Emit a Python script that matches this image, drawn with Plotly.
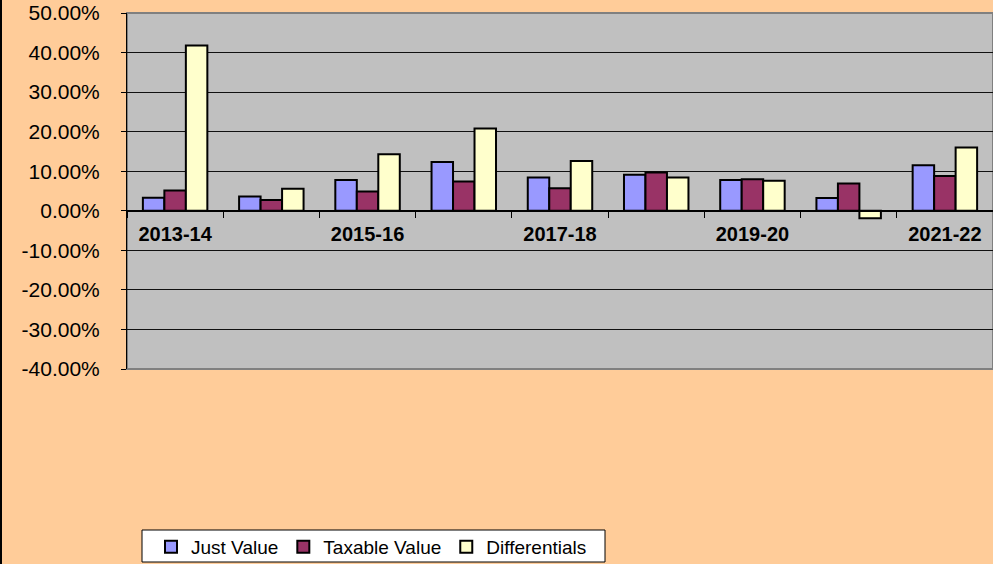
import plotly.graph_objects as go

categories = ["2013-14", "2014-15", "2015-16", "2016-17", "2017-18",
              "2018-19", "2019-20", "2020-21", "2021-22"]
tick_labels = ["2013-14", "", "2015-16", "", "2017-18", "", "2019-20", "", "2021-22"]
just_value = [3.3, 3.6, 7.8, 12.3, 8.4, 9.1, 7.8, 3.2, 11.5]
taxable_value = [5.1, 2.7, 4.9, 7.4, 5.7, 9.7, 8.0, 6.9, 8.8]
differentials = [41.8, 5.6, 14.3, 20.8, 12.6, 8.4, 7.6, -1.9, 16.0]
y_ticks = [-40, -30, -20, -10, 0, 10, 20, 30, 40, 50]
y_tick_labels = ["-40.00%", "-30.00%", "-20.00%", "-10.00%", "0.00%",
                 "10.00%", "20.00%", "30.00%", "40.00%", "50.00%"]

YMIN, YMAX = -40, 50
FONT = "Liberation Sans, Arial, sans-serif"
L, T, B, W, H = 127, 13, 195, 993, 564
PW, PH = W - L, H - T - B


def px_x(px):
    return (px - L) / PW


def px_y(py):
    return (H - B - py) / PH


fig = go.Figure()
for name, vals, col in [("Just Value", just_value, "#9999FF"),
                        ("Taxable Value", taxable_value, "#993366"),
                        ("Differentials", differentials, "#FFFFCC")]:
    fig.add_trace(go.Bar(x=categories, y=vals, name=name,
                         marker=dict(color=col, line=dict(color="black", width=2))))

fig.update_layout(
    width=W, height=H,
    margin=dict(l=L, r=0, t=T, b=B, autoexpand=False),
    paper_bgcolor="#FFCC99",
    plot_bgcolor="#C0C0C0",
    barmode="group", bargap=0.33, bargroupgap=0,
    font=dict(family=FONT, color="black"),
    showlegend=True,
    legend=dict(orientation="h", x=px_x(151), xanchor="left", y=px_y(528), yanchor="top",
                bgcolor="rgba(0,0,0,0)", borderwidth=0,
                font=dict(size=19, family=FONT, color="black"),
                itemwidth=30, itemsizing="constant"),
    xaxis=dict(type="category", categoryorder="array", categoryarray=categories,
               tickvals=categories, ticktext=tick_labels, automargin=False,
               tickson="boundaries", ticks="outside", ticklen=6, tickcolor="black",
               tickwidth=1, ticklabelstandoff=5,
               tickfont=dict(size=20, family=FONT, color="black", weight="bold"),
               showgrid=False, showline=True, linecolor="black", linewidth=2,
               anchor="free", position=(0 - YMIN) / (YMAX - YMIN),
               zeroline=False),
    yaxis=dict(range=[YMIN, YMAX], tickvals=y_ticks, ticktext=y_tick_labels,
               automargin=False,
               ticks="outside", ticklen=5, tickcolor="black",
               tickfont=dict(size=21, family=FONT, color="black"),
               ticklabelstandoff=17,
               showgrid=True, gridcolor="#111111", gridwidth=1,
               showline=True, linecolor="black", linewidth=1, zeroline=False),
)

# plot-area border (gray), chart left border, legend box
fig.add_shape(type="rect", xref="paper", yref="paper", x0=0, x1=1, y0=0, y1=1,
              line=dict(color="#808080", width=2), layer="below")
fig.add_shape(type="line", xref="paper", yref="paper", x0=px_x(1), x1=px_x(1),
              y0=px_y(H), y1=px_y(0), line=dict(color="black", width=2))
fig.add_shape(type="rect", xref="paper", yref="paper",
              x0=px_x(142), x1=px_x(605), y0=px_y(562), y1=px_y(530),
              fillcolor="white", line=dict(color="black", width=1), layer="above")

fig.write_html("out.html", config={"displayModeBar": False},
               post_script="document.body.style.margin='0';document.body.style.overflow='hidden';")
